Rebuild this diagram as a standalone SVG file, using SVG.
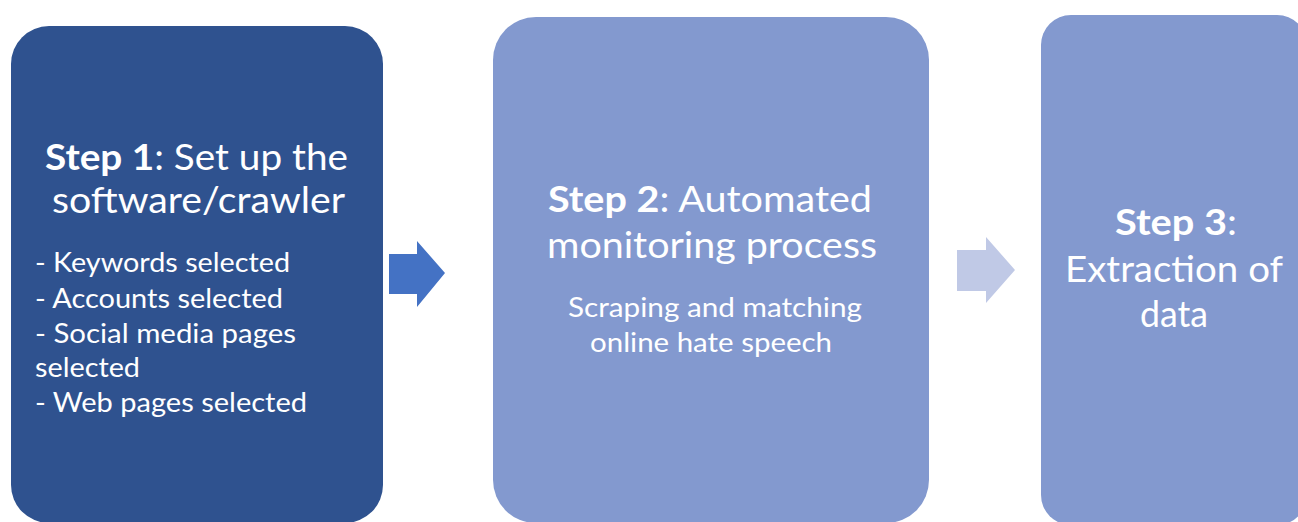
<svg xmlns="http://www.w3.org/2000/svg" width="1298" height="522" viewBox="0 0 1298 522">
<style>
text{font-family:Lato,"Open Sans","Liberation Sans",sans-serif;fill:#ffffff}
.t{font-size:37px}
.s{font-size:26px}
.b{font-weight:bold}
.dark{fill:#2f528f}
.light{fill:#8399cf}
</style>
<rect width="1298" height="522" fill="#ffffff"/>
<g id="step1">
<rect class="dark" x="11" y="26" width="372" height="497" rx="38"/>
<text class="t" x="45" y="170" textLength="303" lengthAdjust="spacingAndGlyphs"><tspan class="b">Step 1</tspan>: Set up the</text>
<text class="t" x="52" y="213" textLength="293" lengthAdjust="spacingAndGlyphs">software/crawler</text>
<text class="s" x="35" y="272" textLength="255" lengthAdjust="spacingAndGlyphs">- Keywords selected</text>
<text class="s" x="35" y="308" textLength="248" lengthAdjust="spacingAndGlyphs">- Accounts selected</text>
<text class="s" x="35" y="343" textLength="261" lengthAdjust="spacingAndGlyphs">- Social media pages</text>
<text class="s" x="35" y="377" textLength="105" lengthAdjust="spacingAndGlyphs">selected</text>
<text class="s" x="35" y="412" textLength="272" lengthAdjust="spacingAndGlyphs">- Web pages selected</text>
</g>
<g id="step2">
<rect class="light" x="493" y="17" width="436" height="506" rx="43"/>
<text class="t" x="548" y="212" textLength="324" lengthAdjust="spacingAndGlyphs"><tspan class="b">Step 2</tspan>: Automated</text>
<text class="t" x="547" y="258" textLength="330" lengthAdjust="spacingAndGlyphs">monitoring process</text>
<text class="s" x="568" y="317" textLength="294" lengthAdjust="spacingAndGlyphs">Scraping and matching</text>
<text class="s" x="590" y="352" textLength="242" lengthAdjust="spacingAndGlyphs">online hate speech</text>
</g>
<g id="step3">
<rect class="light" x="1041" y="15" width="266" height="510" rx="30"/>
<text class="t" x="1115" y="235" textLength="122" lengthAdjust="spacingAndGlyphs"><tspan class="b">Step 3</tspan>:</text>
<text class="t" x="1065" y="282" textLength="218" lengthAdjust="spacingAndGlyphs">Extraction of</text>
<text class="t" x="1140" y="327" textLength="68" lengthAdjust="spacingAndGlyphs">data</text>
</g>
<g id="connectors">
<polygon fill="#4472c4" points="389,254 417,254 417,241 445,273 417,307 417,294 389,294"/>
<polygon fill="#c0c9e6" points="957,250 986,250 986,237 1015,270 986,303 986,291 957,291"/>
</g>
</svg>
